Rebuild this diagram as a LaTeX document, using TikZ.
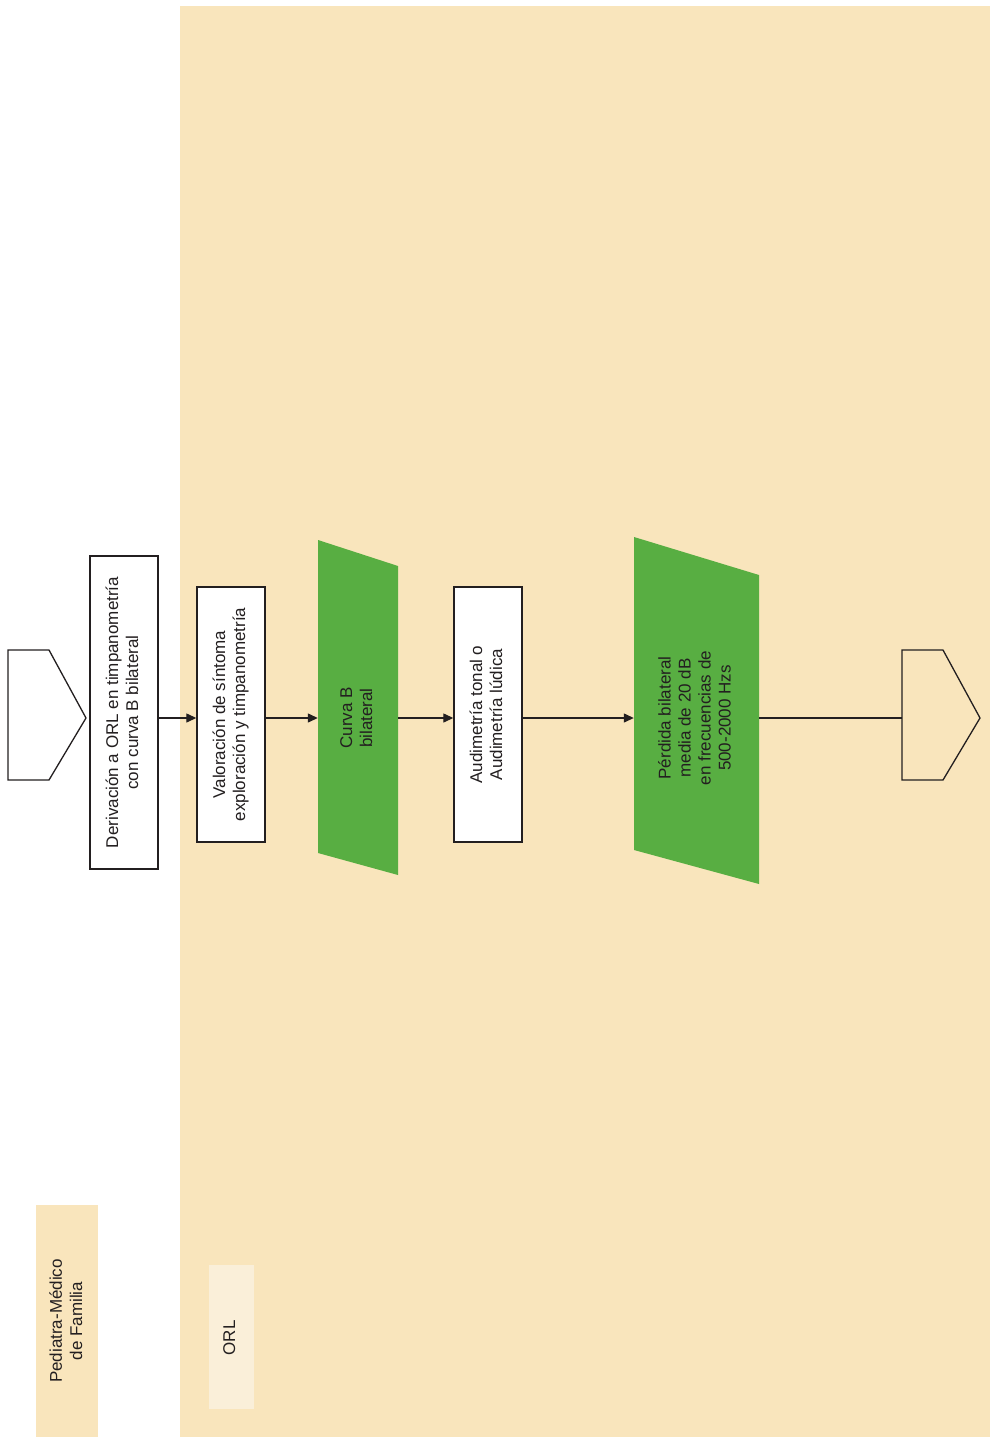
\documentclass[tikz,border=0pt]{standalone}
\usepackage{fontspec}
\setmainfont{Liberation Sans}
\usetikzlibrary{arrows.meta,calc}
\definecolor{lanetan}{RGB}{249,229,188}
\definecolor{lanelight}{RGB}{250,239,217}
\definecolor{stepgreen}{RGB}{88,174,66}
\definecolor{ink}{RGB}{35,31,32}
\newcommand{\rtext}[1]{\rotatebox{90}{\begin{tabular}{@{}c@{}}#1\end{tabular}}}
\tikzset{
  txt/.style={font=\fontsize{17}{20}\selectfont, text=ink, inner sep=0pt},
  whitebox/.style={txt, draw=ink, line width=1.4pt, fill=white, rectangle},
  greenlabel/.style={txt, rectangle},
  arr/.style={draw=ink, line width=1.3pt, -{Triangle[length=10pt,width=9pt]}},
  plain/.style={draw=ink, line width=1.3pt},
  pent/.style={draw=ink, line width=1.3pt, fill=white}
}
\begin{document}
\begin{tikzpicture}[x=1pt,y=-1pt]
\useasboundingbox (0,0) rectangle (990,1437);
% lanes
\fill[lanetan] (180,6) rectangle (990,1437);
\fill[lanetan] (36,1205) rectangle (98,1437);
\fill[lanelight] (209,1265) rectangle (254,1409);
\node[txt] (lane1) at (68,1321) {\rtext{Pediatra-Médico\\de Familia}};
\node[txt] (lane2) at (231,1338) {\rtext{ORL}};
% reference line
\coordinate (mid) at (0,718);
% start pentagon
\draw[pent] (8,650) -- (49,650) -- (86,718) -- (49,780) -- (8,780) -- cycle;
\coordinate (starttip) at (86,718);
% boxes
\node[whitebox, minimum width=68pt, minimum height=313pt] (box1) at (124,712.5)
  {\rtext{Derivación a ORL en timpanometría\\con curva B bilateral}};
\node[whitebox, minimum width=68pt, minimum height=255pt] (box2) at (231,714.5)
  {\rtext{Valoración de síntoma\\exploración y timpanometría}};
% green 1
\fill[stepgreen] (318,540) -- (398,566) -- (398,875) -- (318,853) -- cycle;
\node[greenlabel, minimum width=80pt, minimum height=300pt] (green1) at (358,718)
  {\rtext{Curva B\\bilateral}};
\node[whitebox, minimum width=68pt, minimum height=255pt] (box3) at (488,714.5)
  {\rtext{Audimetría tonal o\\Audimetría lúdica}};
% green 2
\fill[stepgreen] (634,537) -- (759,575) -- (759,884) -- (634,850) -- cycle;
\node[greenlabel, minimum width=125pt, minimum height=300pt] (green2) at (696.5,718)
  {\rtext{Pérdida bilateral\\media de 20 dB\\en frecuencias de\\500-2000 Hzs}};
% end pentagon
\draw[pent, fill=none] (902,650) -- (943,650) -- (980,718) -- (943,780) -- (902,780) -- cycle;
\coordinate (endin) at (902,718);
% connectors
\draw[arr] (box1.east |- mid) -- (box2.west |- mid);
\draw[arr] (box2.east |- mid) -- (green1.west |- mid);
\draw[arr] (green1.east |- mid) -- (box3.west |- mid);
\draw[arr] (box3.east |- mid) -- (green2.west |- mid);
\draw[plain] (green2.east |- mid) -- (endin);
\end{tikzpicture}
\end{document}
